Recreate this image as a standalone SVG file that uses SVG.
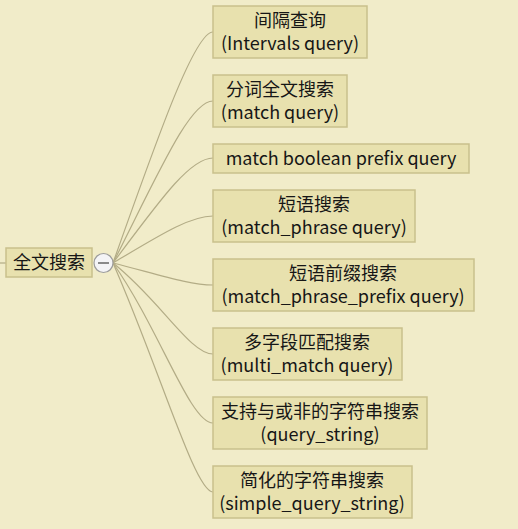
<svg xmlns="http://www.w3.org/2000/svg" width="518" height="529" viewBox="0 0 518 529">
<style>
.bg{fill:#F1ECC9}
.box{fill:#E8E1AE;stroke:#C9C08C;stroke-width:1.5}
.t{font-family:"Microsoft YaHei","Noto Sans CJK SC","Noto Sans",sans-serif;font-size:18px;fill:#161616;text-anchor:middle}
.c{fill:none;stroke:#B3AC86;stroke-width:1.2}
</style>
<rect class="bg" x="0" y="0" width="518" height="529"/>
<g id="connectors">
<line class="c" x1="0" y1="263" x2="6" y2="263"/>
<path class="c" d="M113,263 C160,130 195,32 213,32"/>
<path class="c" d="M113,263 C160,170 190,101 213,101"/>
<path class="c" d="M113,263 C160,200 190,158 213,158"/>
<path class="c" d="M113,263 C160,235 190,216 213,216"/>
<path class="c" d="M113,263 C160,275 190,285 213,285"/>
<path class="c" d="M113,263 C160,300 190,354 213,354"/>
<path class="c" d="M113,263 C160,330 190,423 213,423"/>
<path class="c" d="M113,263 C160,370 195,492 213,492"/>
</g>
<g id="root">
<rect class="box" x="6" y="248" width="86" height="29"/>
<text class="t" x="49" y="269">全文搜索</text>
</g>
<g id="toggle">
<circle cx="103.5" cy="263" r="9.5" fill="#F4F4F6" stroke="#9C9C9C" stroke-width="1.2"/>
<line x1="98" y1="263" x2="109" y2="263" stroke="#8A8A8A" stroke-width="2"/>
</g>
<g id="n1">
<rect class="box" x="213" y="6" width="154" height="52"/>
<text class="t" x="290" y="27">间隔查询</text>
<text class="t" x="290" y="50">(Intervals query)</text>
</g>
<g id="n2">
<rect class="box" x="213" y="75" width="134" height="52"/>
<text class="t" x="280" y="96">分词全文搜索</text>
<text class="t" x="280" y="119">(match query)</text>
</g>
<g id="n3">
<rect class="box" x="213" y="144" width="256" height="29"/>
<text class="t" x="341" y="165">match boolean prefix query</text>
</g>
<g id="n4">
<rect class="box" x="213" y="190" width="202" height="52"/>
<text class="t" x="314" y="211">短语搜索</text>
<text class="t" x="314" y="234">(match_phrase query)</text>
</g>
<g id="n5">
<rect class="box" x="213" y="259" width="261" height="52"/>
<text class="t" x="343" y="280">短语前缀搜索</text>
<text class="t" x="343" y="303">(match_phrase_prefix query)</text>
</g>
<g id="n6">
<rect class="box" x="213" y="328" width="189" height="52"/>
<text class="t" x="307" y="349">多字段匹配搜索</text>
<text class="t" x="307" y="372">(multi_match query)</text>
</g>
<g id="n7">
<rect class="box" x="213" y="397" width="214" height="52"/>
<text class="t" x="320" y="418">支持与或非的字符串搜索</text>
<text class="t" x="320" y="441">(query_string)</text>
</g>
<g id="n8">
<rect class="box" x="213" y="466" width="199" height="52"/>
<text class="t" x="312" y="487">简化的字符串搜索</text>
<text class="t" x="312" y="510">(simple_query_string)</text>
</g>
</svg>
